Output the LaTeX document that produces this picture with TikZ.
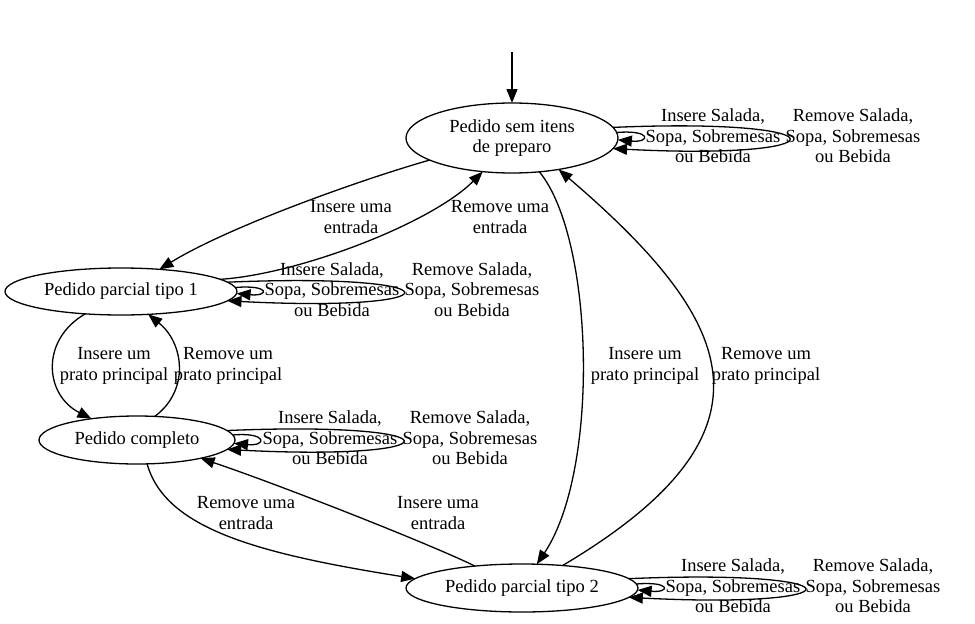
\documentclass[tikz,border=0pt]{standalone}
\usepackage{fontspec}
\setmainfont{Liberation Serif}
\usetikzlibrary{shapes.geometric,arrows.meta,calc}

\begin{document}
\begin{tikzpicture}[x=1pt, y=-1pt,
    every node/.style={font=\fontsize{18.5}{20.5}\selectfont, align=center},
    state/.style={draw, ellipse, line width=1.3pt, inner sep=0pt, outer sep=0pt},
    edge/.style={line width=1.3pt, -{Triangle[length=14pt, width=11pt]}}]

% Canvas
\useasboundingbox (0,0) rectangle (975,624);

% States
\node[state, minimum width=212pt, minimum height=70pt] (semitens) at (512,138) {Pedido sem itens\\de preparo};
\node[state, minimum width=232pt, minimum height=47pt] (parcial1) at (121,291.5) {Pedido parcial tipo 1};
\node[state, minimum width=196pt, minimum height=48pt] (completo) at (137,440) {Pedido completo};
\node[state, minimum width=232pt, minimum height=48pt] (parcial2) at (522,588) {Pedido parcial tipo 2};

% Initial state
\coordinate (inicio) at (512,52);
\draw[edge] (inicio) -- (semitens.north);

% Entradas
\draw[edge] (semitens.195) .. controls +(-67,19) and +(70,-43) .. (parcial1.30);
\node (insE1) at (351,217) {Insere uma\\entrada};
\draw[edge] (parcial1.7) .. controls +(78,-5) and +(-52,52) .. (semitens.229);
\node (remE1) at (500,217) {Remove uma\\entrada};
\draw[edge] (completo.-67) .. controls +(18,65) and +(-157,-25) .. (parcial2.175);
\node (remE2) at (246,513) {Remove uma\\entrada};
\draw[edge] (parcial2.155) .. controls +(-45,-22) and +(80,27) .. (completo.-16);
\node (insE2) at (438,513) {Insere uma\\entrada};

% Pratos principais
\draw[edge] (parcial1.212) .. controls +(-45,26) and +(-47,-24) .. (completo.155);
\node (insP1) at (114,366) {Insere um\\prato principal};
\draw[edge] (completo.53) .. controls +(35,-26) and +(36,29) .. (parcial1.-40);
\node (remP1) at (228,366) {Remove um\\prato principal};
\draw[edge] (semitens.-51) .. controls +(55,67) and +(63,-94) .. (parcial2.58);
\node (insP2) at (645,366) {Insere um\\prato principal};
\draw[edge] (parcial2.29) .. controls +(228,-135) and +(175,150) .. (semitens.-34);
\node (remP2) at (766,366) {Remove um\\prato principal};

% Self loops (salada, sopa, sobremesas, bebida)
\foreach \st/\bs/\be/\ss/\se in {semitens/6/-6/3/-1, parcial1/5/-5/2/-1, completo/6/-6/3/-2, parcial2/5/-5/2/-1} {
    \draw[edge] (\st.\ss) .. controls +(35,-3) and +(33,3) .. (\st.\se);
    \draw[edge] (\st.\bs) .. controls +(235,-10) and +(233,12) .. (\st.\be);
    \node (ins\st) at ($(\st.east)+(95,-2)$) {Insere Salada,\\Sopa, Sobremesas\\ou Bebida};
    \node (rem\st) at ($(\st.east)+(235,-2)$) {Remove Salada,\\Sopa, Sobremesas\\ou Bebida};
}

\end{tikzpicture}
\end{document}
